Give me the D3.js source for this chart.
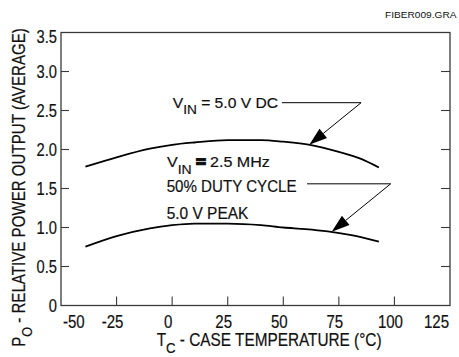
<!DOCTYPE html>
<html>
<head>
<meta charset="utf-8">
<script src="https://cdn.jsdelivr.net/npm/d3@7"></script>
<style>
  html, body { margin: 0; padding: 0; background: #fff; }
  svg { display: block; }
  text { font-family: "Liberation Sans", Arial, Helvetica, sans-serif; fill: #111; }
</style>
</head>
<body>
<svg id="chart" width="459" height="357"></svg>
<script>
// Case temperature (°C) and relative average output power
const dcTemps   = [-39, -25, -10, 0, 10, 25, 40, 50, 62, 75, 85, 93];
const dcPower   = [1.78, 1.90, 2.01, 2.06, 2.09, 2.12, 2.12, 2.10, 2.06, 1.97, 1.88, 1.77];
const acTemps   = [-39, -25, -10, 0, 10, 25, 40, 50, 60, 70, 80, 93];
const acPower   = [0.755, 0.89, 0.99, 1.03, 1.05, 1.05, 1.03, 1.00, 0.98, 0.95, 0.905, 0.82];

const xTicks = [-50, -25, 0, 25, 50, 75, 100, 125];
const yTicks = [0, 0.5, 1.0, 1.5, 2.0, 2.5, 3.0, 3.5];
const xTickLabels = ["-50", "-25", "0", "25", "50", "75", "100", "125"];
const yTickLabels = ["0", "0.5", "1.0", "1.5", "2.0", "2.5", "3.0", "3.5"];

// Callout leaders in data units: [start of horizontal, corner, arrow tip]
const dcLeader = [[49.4, 2.60], [85, 2.60], [61.7, 2.06]];
const acLeader = [[60.7, 1.56], [98.3, 1.56], [71.8, 0.945]];

const svg = d3.select("#chart");
const frame = { left: 61, right: 450, top: 32.5, bottom: 305.5 };

const x = d3.scaleLinear().domain([-50, 125]).range([frame.left, frame.right]);
const y = d3.scaleLinear().domain([0, 3.5]).range([frame.bottom, frame.top]);

// Condensed text: draw with a regular face, then squeeze horizontally
function label(parent, px, py, parts, opts) {
  const o = Object.assign({ size: 15, anchor: "start", rotate: 0, width: null, sx: 0.88, subSize: null, subDrop: 6.5, weight: "normal", heavy: 0.2 }, opts || {});
  const g = parent.append("g");
  const t = g.append("text")
    .attr("x", 0).attr("y", 0)
    .attr("text-anchor", o.anchor)
    .attr("font-size", o.size)
    .attr("font-weight", o.weight)
    .attr("stroke", "#111")
    .attr("stroke-width", o.heavy);
  let prevSub = false;
  parts.forEach(p => {
    const isSub = Array.isArray(p) && p[1];
    const str = Array.isArray(p) ? p[0] : p;
    const ts = t.append("tspan").text(str);
    if (isSub) {
      ts.attr("font-size", o.subSize || o.size * 0.85).attr("dy", o.subDrop);
    } else if (prevSub) {
      ts.attr("dy", -o.subDrop);
    }
    if (Array.isArray(p) && p[2]) ts.attr("stroke-width", p[2]);
    prevSub = isSub;
  });
  let sx = o.sx;
  if (o.width) sx = o.width / t.node().getComputedTextLength();
  g.attr("transform", `translate(${px},${py}) rotate(${o.rotate}) scale(${sx},1)`);
  return g;
}

// Frame
svg.append("rect")
  .attr("x", frame.left).attr("y", frame.top)
  .attr("width", frame.right - frame.left).attr("height", frame.bottom - frame.top)
  .attr("fill", "none").attr("stroke", "#3a3a3a").attr("stroke-width", 1.3);

// Inward ticks on left, right and bottom
const innerY = yTicks.filter(v => v > 0 && v < 3.5);
const innerX = xTicks.filter(v => v > -50 && v < 125);
const tickG = svg.append("g").attr("stroke", "#3a3a3a").attr("stroke-width", 1.1);
innerY.forEach(v => {
  tickG.append("line").attr("x1", frame.left).attr("x2", frame.left + 8).attr("y1", y(v)).attr("y2", y(v));
  tickG.append("line").attr("x1", frame.right).attr("x2", frame.right - 9).attr("y1", y(v)).attr("y2", y(v));
});
innerX.forEach(v => {
  tickG.append("line").attr("x1", x(v)).attr("x2", x(v)).attr("y1", frame.bottom).attr("y2", frame.bottom - 9);
});

// Tick labels
yTicks.forEach((v, i) => {
  const by = Math.max(y(v) + 6.5, frame.top + 10.5);
  label(svg, 57, by, [yTickLabels[i]], { size: 17.5, anchor: "end", sx: 0.84 });
});
xTicks.forEach((v, i) => {
  let anchor = "middle", px = x(v) - 4;
  if (i === 0) { anchor = "start"; px = x(v) + 2; }
  if (i === xTicks.length - 1) { anchor = "end"; px = x(v) - 1; }
  label(svg, px, 327.5, [xTickLabels[i]], { size: 17.5, anchor: anchor, sx: 0.86 });
});

// Axis titles
label(svg, 156.7, 345.5, ["T", ["C", true], " - CASE TEMPERATURE (°C)"],
  { size: 17.5, subSize: 15, subDrop: 7, width: 225 });
label(svg, 25, 187.5, ["P", ["O", true], " - RELATIVE POWER OUTPUT (AVERAGE)"],
  { size: 18, subSize: 15, subDrop: 7, width: 319, anchor: "middle", rotate: -90 });

// File tag
label(svg, 456.5, 18.3, ["FIBER009.GRA"], { size: 9, anchor: "end", width: 71.5, heavy: 0 });

// Curves
const line = d3.line().x(d => x(d[0])).y(d => y(d[1])).curve(d3.curveMonotoneX);
svg.append("path")
  .datum(d3.zip(dcTemps, dcPower))
  .attr("d", line).attr("fill", "none").attr("stroke", "#000").attr("stroke-width", 1.8);
svg.append("path")
  .datum(d3.zip(acTemps, acPower))
  .attr("d", line).attr("fill", "none").attr("stroke", "#000").attr("stroke-width", 1.8);

// Callout leaders with filled arrowheads
function leader(pts) {
  const p = pts.map(d => [x(d[0]), y(d[1])]);
  const tip = p[2], corner = p[1];
  const dx = tip[0] - corner[0], dy = tip[1] - corner[1];
  const len = Math.hypot(dx, dy), ux = dx / len, uy = dy / len;
  const headLen = 18, halfW = 6;
  const bx = tip[0] - ux * headLen, by = tip[1] - uy * headLen;
  svg.append("path")
    .attr("d", d3.line()([p[0], corner, [bx, by]]))
    .attr("fill", "none").attr("stroke", "#000").attr("stroke-width", 1);
  svg.append("path")
    .attr("d", d3.line()([tip, [bx - uy * halfW, by + ux * halfW], [bx + uy * halfW, by - ux * halfW]]) + "Z")
    .attr("fill", "#000");
}
leader(dcLeader);
leader(acLeader);

// Curve annotations
label(svg, 172.7, 107.5, ["V", ["IN", true], " = 5.0 V DC"], { size: 15.5, subSize: 13.5, subDrop: 6.5, width: 105.5 });
label(svg, 167, 167, ["V", ["IN", true], " ", ["=", false, 2.2], " 2.5 MHz"], { size: 15.5, subSize: 13.5, subDrop: 6.5, width: 103 });
label(svg, 166.7, 192, ["50% DUTY CYCLE"], { size: 16, width: 130 });
label(svg, 166.7, 219.3, ["5.0 V PEAK"], { size: 16, width: 81.7 });
</script>
</body>
</html>
